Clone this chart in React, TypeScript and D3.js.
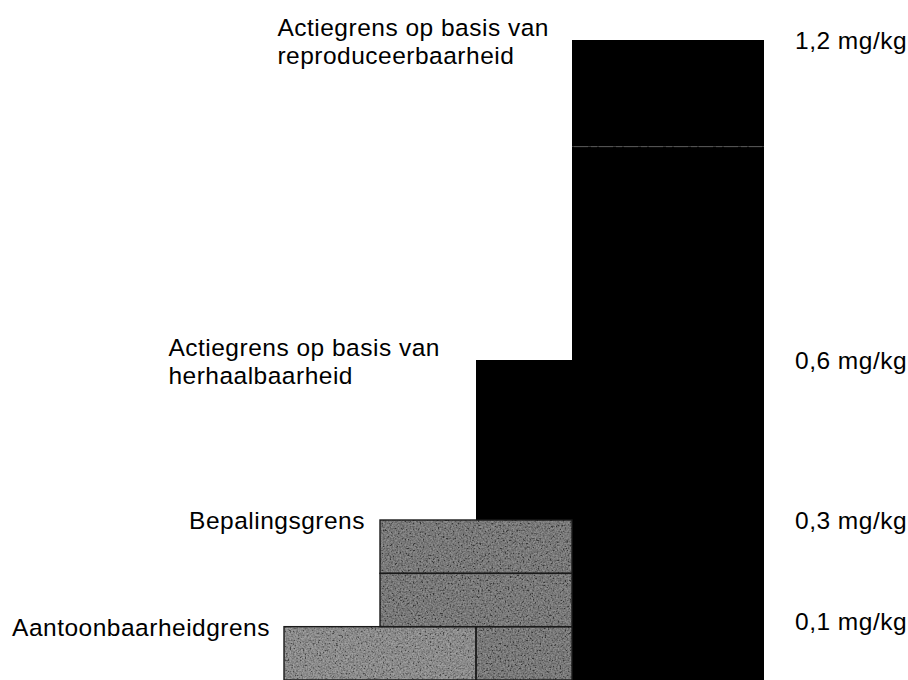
import React, { useEffect, useRef } from "react";
import * as d3 from "d3";

// limits in mg/kg, bottom to top
const labelLines = [
  ["Aantoonbaarheidgrens"],
  ["Bepalingsgrens"],
  ["Actiegrens op basis van", "herhaalbaarheid"],
  ["Actiegrens op basis van", "reproduceerbaarheid"],
];
const limits = [0.1, 0.3, 0.6, 1.2];
const valueLabels = ["0,1 mg/kg", "0,3 mg/kg", "0,6 mg/kg", "1,2 mg/kg"];
const barStartCol = [0, 1, 2, 3];

// bricks of the staircase: value range and column range
const brickFrom = [0, 0, 0.1, 0.2, 0.3, 0, 1.0];
const brickTo = [0.1, 0.1, 0.2, 0.3, 0.6, 1.0, 1.2];
const brickCol0 = [0, 2, 1, 1, 2, 3, 3];
const brickCol1 = [2, 3, 3, 3, 3, 5, 5];
const brickTone = ["light", "mid", "mid", "mid", "black", "black", "black"];

const W = 908;
const H = 680;

const Staircase = () => {
  const ref = useRef<SVGSVGElement>(null);

  useEffect(() => {
    if (!ref.current) return;
    const svg = d3.select(ref.current);
    svg.selectAll("*").remove();

    const y = d3.scaleLinear().domain([0, 1.2]).range([H, 40]);
    const x = d3.scaleLinear().domain([0, 5]).range([284, 764]);

    // grainy print texture for the grey bricks
    const defs = svg.append("defs");
    const f = defs
      .append("filter")
      .attr("id", "grain")
      .attr("x", 0)
      .attr("y", 0)
      .attr("width", 1)
      .attr("height", 1);
    f.append("feTurbulence")
      .attr("type", "fractalNoise")
      .attr("baseFrequency", 0.6)
      .attr("numOctaves", 2)
      .attr("seed", 4)
      .attr("result", "noise");
    f.append("feColorMatrix")
      .attr("in", "noise")
      .attr("type", "matrix")
      .attr(
        "values",
        "1.4 1.4 0 0 -0.9  1.4 1.4 0 0 -0.9  1.4 1.4 0 0 -0.9  0 0 0 0 1"
      )
      .attr("result", "gray");
    f.append("feComposite")
      .attr("in", "gray")
      .attr("in2", "SourceGraphic")
      .attr("operator", "in");

    const fill: any = { light: "#707070", mid: "#545454", black: "#000" };
    const idx = d3.range(brickFrom.length);
    const g = svg.append("g");

    g.selectAll("rect.brick")
      .data(idx)
      .enter()
      .append("rect")
      .attr("class", "brick")
      .attr("x", (i) => x(brickCol0[i]))
      .attr("y", (i) => y(brickTo[i]))
      .attr("width", (i) => x(brickCol1[i]) - x(brickCol0[i]))
      .attr("height", (i) => y(brickFrom[i]) - y(brickTo[i]))
      .attr("fill", (i) => fill[brickTone[i]]);

    g.selectAll("rect.grain")
      .data(idx.filter((i) => brickTone[i] !== "black"))
      .enter()
      .append("rect")
      .attr("class", "grain")
      .attr("x", (i) => x(brickCol0[i]))
      .attr("y", (i) => y(brickTo[i]))
      .attr("width", (i) => x(brickCol1[i]) - x(brickCol0[i]))
      .attr("height", (i) => y(brickFrom[i]) - y(brickTo[i]))
      .attr("fill", "#fff")
      .attr("filter", "url(#grain)")
      .attr("opacity", 0.35);

    g.selectAll("rect.edge")
      .data(idx.filter((i) => brickTone[i] !== "black"))
      .enter()
      .append("rect")
      .attr("class", "edge")
      .attr("x", (i) => x(brickCol0[i]))
      .attr("y", (i) => y(brickTo[i]))
      .attr("width", (i) => x(brickCol1[i]) - x(brickCol0[i]))
      .attr("height", (i) => y(brickFrom[i]) - y(brickTo[i]))
      .attr("fill", "none")
      .attr("stroke", "#1a1a1a")
      .attr("stroke-width", 1.4);

    // faint seam inside the tall black bar
    svg
      .append("line")
      .attr("x1", x(3) + 2)
      .attr("x2", x(5) - 2)
      .attr("y1", y(1.0))
      .attr("y2", y(1.0))
      .attr("stroke", "#666")
      .attr("stroke-width", 0.7)
      .attr("stroke-dasharray", "14 3 6 2");

    const font = "'Liberation Sans', Arial, sans-serif";
    const gaps = [14, 15, 36, 23];

    // category labels to the left of each step
    labelLines.forEach((lines, i) => {
      const top = y(limits[i]);
      const base = lines.length > 1 ? top - 4 : top + 9;
      const t = svg
        .append("text")
        .attr("font-family", font)
        .attr("font-size", 24.5)
        .attr("letter-spacing", 0.5)
        .attr("fill", "#000");
      lines.forEach((ln, j) => {
        t.append("tspan").attr("x", 0).attr("y", base + j * 28).text(ln);
      });
      const w = (t.node() as SVGTextElement).getBBox().width;
      const x0 = x(barStartCol[i]) - gaps[i] - w;
      t.selectAll("tspan").attr("x", x0);
    });

    // value labels on the right
    svg
      .append("g")
      .selectAll("text")
      .data(limits)
      .enter()
      .append("text")
      .attr("x", 795)
      .attr("y", (d) => Math.min(y(d) + 9, H - 50))
      .attr("font-family", font)
      .attr("font-size", 24.5)
      .attr("letter-spacing", 0.5)
      .attr("fill", "#000")
      .text((d, i) => valueLabels[i]);
  }, []);

  return (
    <svg
      ref={ref}
      width={W}
      height={H}
      style={{ position: "absolute", left: 0, top: 0, background: "#fff" }}
    />
  );
};

function App() {
  return <Staircase />;
}

export default App;
